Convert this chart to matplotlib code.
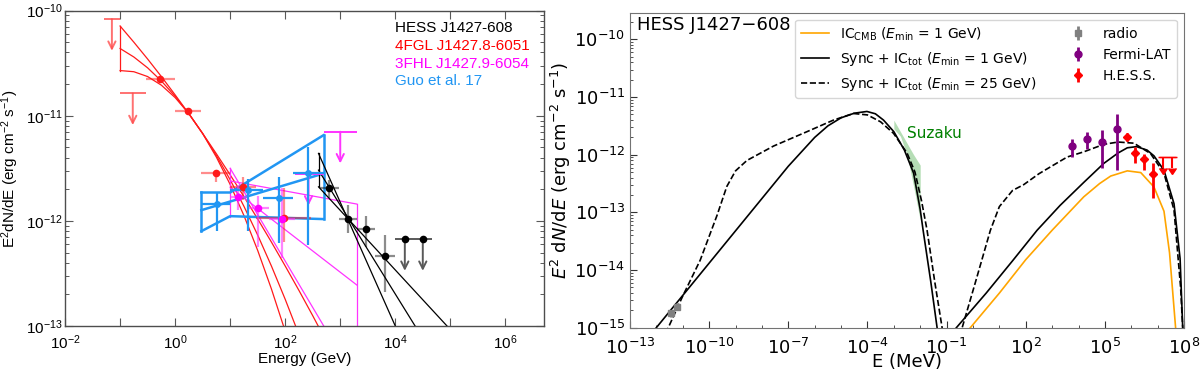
import numpy as np
import matplotlib.pyplot as plt

# ===================== left panel (GeV, erg cm-2 s-1) =====================
# 4FGL J1427.8-6051 log-parabola butterfly, log10 values
fgl_curve_logE = [-1.0, -0.75, -0.5, -0.25, 0.0, 0.25, 0.5, 0.75, 1.0, 1.25, 1.5, 1.75, 2.0, 2.25, 2.5, 2.75]
fgl_upper_logF = [-10.146, -10.300, -10.460, -10.627, -10.801, -10.981, -11.168, -11.362,
                  -11.562, -11.769, -11.982, -12.202, -12.429, -12.662, -12.902, -13.149]
fgl_mid_logF = [-10.360, -10.441, -10.544, -10.669, -10.814, -10.981, -11.169, -11.379,
                -11.609, -11.861, -12.135, -12.430, -12.746, -13.083, -13.440, -13.820]
fgl_lower_logF = [-10.570, -10.581, -10.627, -10.709, -10.827, -10.980, -11.169, -11.394,
                  -11.654, -11.949, -12.281, -12.648, -13.050, -13.488, -13.960, -14.470]

# 4FGL flux points
fgl_E = [0.54, 1.7, 5.5, 17.0, 95.0]
fgl_Elo = [0.3, 1.0, 3.0, 10.0, 30.0]
fgl_Ehi = [1.0, 3.0, 10.0, 30.0, 300.0]
fgl_F = [2.24e-11, 1.10e-11, 2.88e-12, 2.10e-12, 1.07e-12]
fgl_Flo = [2.13e-11, 1.01e-11, 2.34e-12, 1.57e-12, 6.3e-13]
fgl_Fhi = [2.35e-11, 1.18e-11, 3.04e-12, 2.61e-12, 2.04e-12]
# 4FGL upper limits
fgl_ul_E = [0.071, 0.17]
fgl_ul_Elo = [0.05, 0.1]
fgl_ul_Ehi = [0.1, 0.3]
fgl_ul_F = [8.3e-11, 1.63e-11]

# 3FHL J1427.9-6054 butterfly (log10 E, log10 F)
fhl_edge_logE = [1.0, 3.301]
fhl_left_logF = [-11.50, -11.96]
fhl_right_logF = [-11.84, -13.2]
fhl_steep_logE = [1.0, 2.70]
fhl_steep_logF = [-11.50, -13.0]
fhl_mid_logE = [1.0, 3.301]
fhl_mid_logF = [-11.68, -12.61]
fhl_flat_logE = [1.0, 3.301]
fhl_flat_logF = [-11.62, -11.84]
# 3FHL points
fhl_E = [14.0, 32.0, 87.0]
fhl_Elo = [10.0, 20.0, 50.0]
fhl_Ehi = [20.0, 50.0, 150.0]
fhl_F = [1.67e-12, 1.33e-12, 1.05e-12]
fhl_Flo = [1.26e-12, 5.6e-13, 4.4e-13]
fhl_Fhi = [2.19e-12, 1.74e-12, 2.04e-12]
fhl_ul_E = [265.0, 1000.0]
fhl_ul_Elo = [150.0, 500.0]
fhl_ul_Ehi = [500.0, 2000.0]
fhl_ul_F = [2.8e-12, 7.05e-12]

# Guo et al. 17 butterfly
guo_upper_logE = [0.477, 1.0, 2.699]
guo_upper_logF = [-11.73, -11.73, -11.184]
guo_mid_logE = [0.477, 2.699]
guo_mid_logF = [-11.898, -11.549]
guo_lower_logE = [0.477, 1.0, 2.699]
guo_lower_logF = [-12.098, -11.955, -11.983]
# Guo et al. 17 points
guo_E = [5.7, 21.5, 76.0, 265.0]
guo_Elo = [3.0, 10.0, 40.0, 140.0]
guo_Ehi = [10.0, 40.0, 140.0, 500.0]
guo_F = [1.45e-12, 1.96e-12, 1.66e-12, 2.83e-12]
guo_Flo = [7.98e-13, 8.1e-13, 6.1e-13, 5.9e-13]
guo_Fhi = [1.89e-12, 2.53e-12, 2.62e-12, 5.07e-12]

# HESS J1427-608 butterfly
hess_edge_logE = 2.605
hess_steep_logE = [2.605, 4.0]
hess_steep_logF = [-11.358, -13.0]
hess_mid_logE = [2.605, 4.36]
hess_mid_logF = [-11.517, -13.0]
hess_flat_logE = [2.605, 4.94]
hess_flat_logF = [-11.676, -13.0]
# HESS points
hess_E = [630.0, 1360.0, 2900.0, 6600.0]
hess_Elo = [437.0, 933.0, 2000.0, 4370.0]
hess_Ehi = [933.0, 2000.0, 4370.0, 10000.0]
hess_F = [2.04e-12, 1.04e-12, 8.3e-13, 4.6e-13]
hess_Flo = [1.66e-12, 7.6e-13, 5.7e-13, 2.1e-13]
hess_Fhi = [2.47e-12, 1.41e-12, 1.12e-12, 7.4e-13]
hess_ul_E = [14900.0, 31600.0]
hess_ul_Elo = [10000.0, 21400.0]
hess_ul_Ehi = [21400.0, 46800.0]
hess_ul_F = [6.7e-13, 6.7e-13]

legend_names = ['HESS J1427-608', '4FGL J1427.8-6051', '3FHL J1427.9-6054', 'Guo et al. 17']

# ===================== right panel (MeV, erg cm-2 s-1) =====================
sync1_logE = [-12.2, -11.0, -10.0, -9.0, -8.0, -7.0, -6.0, -5.5, -5.0, -4.5, -4.02, -3.7,
              -3.39, -3.0, -2.6, -2.25, -2.0, -1.89, -1.6, -1.36, -1.3]
sync1_logF = [-15.11, -14.44, -13.88, -13.32, -12.76, -12.20, -11.70, -11.50, -11.36, -11.28,
              -11.25, -11.29, -11.40, -11.60, -11.92, -12.32, -12.95, -13.31, -14.20, -15.0, -15.3]
ic1_logE = [-0.75, -0.63, 0.5, 1.5, 2.43, 3.3, 4.2, 4.96, 5.5, 5.85, 6.2, 6.6, 6.86, 7.24, 7.62, 7.85, 7.95, 8.0]
ic1_logF = [-15.07, -15.0, -14.4, -13.84, -13.31, -12.88, -12.48, -12.15, -11.97, -11.88,
            -11.86, -11.92, -12.02, -12.27, -12.85, -13.8, -15.0, -15.5]
sync25_logE = [-11.65, -11.55, -11.0, -10.34, -9.7, -9.33, -9.0, -8.57, -7.56, -6.29, -5.29,
               -4.53, -4.0, -3.5, -3.01, -2.5, -2.2, -1.95, -1.74, -1.45, -1.17, -1.1]
sync25_logF = [-15.1, -15.0, -14.45, -13.83, -13.05, -12.55, -12.28, -12.10, -11.85, -11.60,
               -11.40, -11.285, -11.31, -11.43, -11.63, -11.97, -12.30, -12.80, -13.31, -14.20, -15.0, -15.3]
ic25_logE = [-0.5, -0.41, 0.1, 0.66, 1.0, 1.5, 1.92, 2.5, 2.94, 3.57, 4.2, 4.96, 5.5, 6.1,
             6.73, 7.24, 7.62, 7.87, 7.95, 8.0]
ic25_logF = [-15.14, -15.0, -14.2, -13.31, -12.90, -12.62, -12.52, -12.33, -12.21, -12.04,
             -11.95, -11.82, -11.78, -11.80, -11.98, -12.32, -12.96, -14.3, -15.0, -15.5]
iccmb_logE = [-0.2, -0.10, 1.0, 2.0, 3.0, 4.2, 4.8, 5.22, 5.85, 6.36, 6.86, 7.24, 7.45, 7.68, 7.72]
iccmb_logF = [-15.06, -15.0, -14.4, -13.82, -13.31, -12.73, -12.50, -12.37, -12.28, -12.31,
              -12.56, -12.98, -13.7, -15.0, -15.3]

suzaku_logE = [-3.0, -2.75, -2.5, -2.25, -2.0]
suzaku_hi_logF = [-11.40, -11.60, -11.80, -12.00, -12.18]
suzaku_lo_logF = [-11.55, -11.68, -12.00, -12.55, -13.13]

radio_logE = [-11.46, -11.23]
radio_logF = [-14.75, -14.64]
radio_err = [0.06, 0.06]

lat_logE = [3.76, 4.33, 4.90, 5.45]
lat_logF = [-11.846, -11.73, -11.787, -11.556]
lat_lo_logF = [-12.04, -11.909, -12.237, -12.267]
lat_hi_logF = [-11.72, -11.603, -11.574, -11.296]

hs_logE = [5.82, 6.14, 6.48, 6.84]
hs_logF = [-11.69, -11.978, -12.08, -12.336]
hs_lo_logF = [-11.76, -12.15, -12.27, -12.757]
hs_hi_logF = [-11.63, -11.863, -11.98, -12.15]
hs_ul_logE = [7.2, 7.53]
hs_ul_logF = [-12.047, -12.047]


def p10(v):
    return np.power(10.0, np.asarray(v, dtype=float))


RED = '#ff1a1a'
MAG = '#ff33ff'
BLUE = '#2196f3'
LFONT = 'Liberation Sans'

fig = plt.figure(figsize=(12, 3.71), dpi=100)
axL = fig.add_axes([0.0542, 0.1213, 0.399, 0.85])
axR = fig.add_axes([0.525, 0.1167, 0.4617, 0.849])


def flux_points(ax, E, Elo, Ehi, F, Flo, Fhi, color, ecolor, ms=5.5):
    E, F = np.asarray(E), np.asarray(F)
    xerr = [E - np.asarray(Elo), np.asarray(Ehi) - E]
    yerr = [F - np.asarray(Flo), np.asarray(Fhi) - F]
    ax.errorbar(E, F, xerr=xerr, yerr=yerr, fmt='none', ecolor=ecolor, elinewidth=1.6, zorder=3)
    ax.plot(E, F, 'o', color=color, ms=ms, mec='none', zorder=4)


def upper_limits(ax, E, Elo, Ehi, F, color, dot=False):
    ax.hlines(F, Elo, Ehi, color=color, lw=1.4, zorder=3)
    for e, f in zip(E, F):
        ax.annotate('', xy=(e, f * 0.5), xytext=(e, f),
                    arrowprops=dict(arrowstyle='->', color=color, lw=1.4, mutation_scale=13,
                                    shrinkA=0, shrinkB=0), zorder=3)
    if dot:
        ax.plot(E, F, 'o', color='black', ms=5.5, mec='none', zorder=4)


# ---- 4FGL ----
for logF in (fgl_upper_logF, fgl_mid_logF, fgl_lower_logF):
    axL.plot(p10(fgl_curve_logE), p10(logF), color=RED, lw=0.9)
axL.plot(p10([fgl_curve_logE[0]] * 2), p10([fgl_upper_logF[0], fgl_lower_logF[0]]), color=RED, lw=0.9)
flux_points(axL, fgl_E, fgl_Elo, fgl_Ehi, fgl_F, fgl_Flo, fgl_Fhi, RED, (1, 0.1, 0.1, 0.5))
upper_limits(axL, fgl_ul_E, fgl_ul_Elo, fgl_ul_Ehi, fgl_ul_F, (1, 0.3, 0.3, 0.8))

# ---- 3FHL ----
axL.plot(p10([fhl_edge_logE[0]] * 2), p10(fhl_left_logF), color=MAG, lw=0.9)
axL.plot(p10([fhl_edge_logE[1]] * 2), p10(fhl_right_logF), color=MAG, lw=0.9)
axL.plot(p10(fhl_steep_logE), p10(fhl_steep_logF), color=MAG, lw=0.9)
axL.plot(p10(fhl_mid_logE), p10(fhl_mid_logF), color=MAG, lw=0.9)
axL.plot(p10(fhl_flat_logE), p10(fhl_flat_logF), color=MAG, lw=0.9)
flux_points(axL, fhl_E, fhl_Elo, fhl_Ehi, fhl_F, fhl_Flo, fhl_Fhi, '#ff00ff', (1, 0.2, 1, 0.6))
upper_limits(axL, fhl_ul_E, fhl_ul_Elo, fhl_ul_Ehi, fhl_ul_F, MAG)

# ---- Guo et al. 17 ----
axL.plot(p10(guo_upper_logE), p10(guo_upper_logF), color=BLUE, lw=1.8)
axL.plot(p10(guo_mid_logE), p10(guo_mid_logF), color=BLUE, lw=1.8)
axL.plot(p10(guo_lower_logE), p10(guo_lower_logF), color=BLUE, lw=1.8)
axL.plot(p10([guo_upper_logE[0]] * 2), p10([guo_upper_logF[0], guo_lower_logF[0]]), color=BLUE, lw=1.8)
axL.plot(p10([guo_upper_logE[-1]] * 2), p10([guo_upper_logF[-1], guo_lower_logF[-1]]), color=BLUE, lw=1.8)
flux_points(axL, guo_E, guo_Elo, guo_Ehi, guo_F, guo_Flo, guo_Fhi, BLUE, BLUE, ms=5)

# ---- HESS ----
for lE, lF in ((hess_steep_logE, hess_steep_logF), (hess_mid_logE, hess_mid_logF),
               (hess_flat_logE, hess_flat_logF)):
    axL.plot(p10(lE), p10(lF), color='black', lw=0.9)
axL.plot(p10([hess_edge_logE] * 2), p10([hess_steep_logF[0], hess_flat_logF[0]]), color='black', lw=0.9)
flux_points(axL, hess_E, hess_Elo, hess_Ehi, hess_F, hess_Flo, hess_Fhi, 'black', (0, 0, 0, 0.45))
upper_limits(axL, hess_ul_E, hess_ul_Elo, hess_ul_Ehi, hess_ul_F, (0.35, 0.35, 0.35), dot=True)

axL.set_xscale('log')
axL.set_yscale('log')
axL.set_xlim(1e-2, 5e6)
axL.set_ylim(1e-13, 1e-10)

xt = p10(np.arange(-2, 7))
axL.set_xticks(xt, labels=['$\\mathregular{10^{%d}}$' % k if k % 2 == 0 else '' for k in range(-2, 7)],
               family=LFONT, fontsize=11)
axL.xaxis.set_minor_locator(plt.NullLocator())
yt = p10(np.arange(-13, -9))
axL.set_yticks(yt, labels=['$\\mathregular{10^{%d}}$' % k for k in range(-13, -9)],
               family=LFONT, fontsize=11)
axL.tick_params(which='both', direction='in', top=True, right=True, color='0.35')
axL.tick_params(which='major', length=6, width=0.8)
axL.tick_params(axis='x', which='major', pad=5)
axL.tick_params(axis='y', which='major', pad=2)
axL.tick_params(which='minor', length=3, width=0.7)
for s in axL.spines.values():
    s.set_color('0.3')
    s.set_linewidth(1.0)
axL.set_xlabel('Energy (GeV)', family=LFONT, fontsize=11, labelpad=0)
axL.set_ylabel('E$\\mathregular{^2}$dN/dE (erg cm$\\mathregular{^{-2}}$ s$\\mathregular{^{-1}}$)',
               family=LFONT, fontsize=11, labelpad=3)

for i, (name, col) in enumerate(zip(legend_names, ['black', '#ff0000', '#ff00ff', BLUE])):
    axL.text(0.689, 0.944 - i * 0.0558, name, color=col, transform=axL.transAxes,
             family=LFONT, fontsize=11, va='center', ha='left')

# ===================== right panel =====================
axR.plot(p10(iccmb_logE), p10(iccmb_logF), color='orange', lw=1.2,
         label='IC$_{\\rm CMB}$ ($E_{\\rm min}$ = 1 GeV)')
axR.plot(p10(sync1_logE), p10(sync1_logF), color='black', lw=1.2,
         label='Sync + IC$_{\\rm tot}$ ($E_{\\rm min}$ = 1 GeV)')
axR.plot(p10(ic1_logE), p10(ic1_logF), color='black', lw=1.2)
axR.plot(p10(sync25_logE), p10(sync25_logF), color='black', lw=1.2, ls='--',
         label='Sync + IC$_{\\rm tot}$ ($E_{\\rm min}$ = 25 GeV)')
axR.plot(p10(ic25_logE), p10(ic25_logF), color='black', lw=1.2, ls='--')

axR.fill_between(p10(suzaku_logE), p10(suzaku_lo_logF), p10(suzaku_hi_logF),
                 color='tab:green', alpha=0.35, lw=0)
axR.text(p10(-2.5), p10(-11.63), 'Suzaku', color='green', fontsize=11, va='center', ha='left')

rE, rF = p10(radio_logE), p10(radio_logF)
axR.errorbar(rE, rF, yerr=[rF - p10(np.array(radio_logF) - radio_err), p10(np.array(radio_logF) + radio_err) - rF],
             fmt='s', color='gray', ms=4, elinewidth=2, label='radio')
lE, lF = p10(lat_logE), p10(lat_logF)
axR.errorbar(lE, lF, yerr=[lF - p10(lat_lo_logF), p10(lat_hi_logF) - lF],
             fmt='o', color='purple', ms=5, elinewidth=2, label='Fermi-LAT')
hE, hF = p10(hs_logE), p10(hs_logF)
axR.errorbar(hE, hF, yerr=[hF - p10(hs_lo_logF), p10(hs_hi_logF) - hF],
             fmt='D', color='red', ms=4.5, elinewidth=2, label='H.E.S.S.')
uE, uF = p10(hs_ul_logE), p10(hs_ul_logF)
axR.errorbar(uE, uF, yerr=uF * 0.35, uplims=True, fmt='_', color='red', ms=7, elinewidth=1.5, capsize=3)

axR.set_xscale('log')
axR.set_yscale('log')
axR.set_xlim(1e-13, 1e8)
axR.set_ylim(1e-15, 2.9e-10)
axR.set_xticks(p10(np.arange(-13, 9, 3)))
axR.set_xticks(p10(np.arange(-13, 9)), minor=True)
axR.xaxis.set_minor_formatter(plt.NullFormatter())
axR.set_yticks(p10(np.arange(-15, -9)))
axR.tick_params(which='both', direction='in', labelsize=13, color='0.2')
axR.tick_params(which='major', length=5)
axR.tick_params(axis='x', which='major', pad=7)
axR.tick_params(which='minor', length=2.5)
for s in axR.spines.values():
    s.set_color('0.45')
axR.set_xlabel('E (MeV)', fontsize=13, labelpad=-3)
axR.set_ylabel('$E^2$ d$N$/d$E$ (erg cm$^{-2}$ s$^{-1}$)', fontsize=13, labelpad=1)
axR.text(0.012, 0.961, 'HESS J1427\u2212608', transform=axR.transAxes, fontsize=13,
         va='center', ha='left')
axR.legend(loc='upper right', ncol=2, fontsize=10, columnspacing=2.0, handlelength=2.0)

fig.savefig('out.png', dpi=100)
